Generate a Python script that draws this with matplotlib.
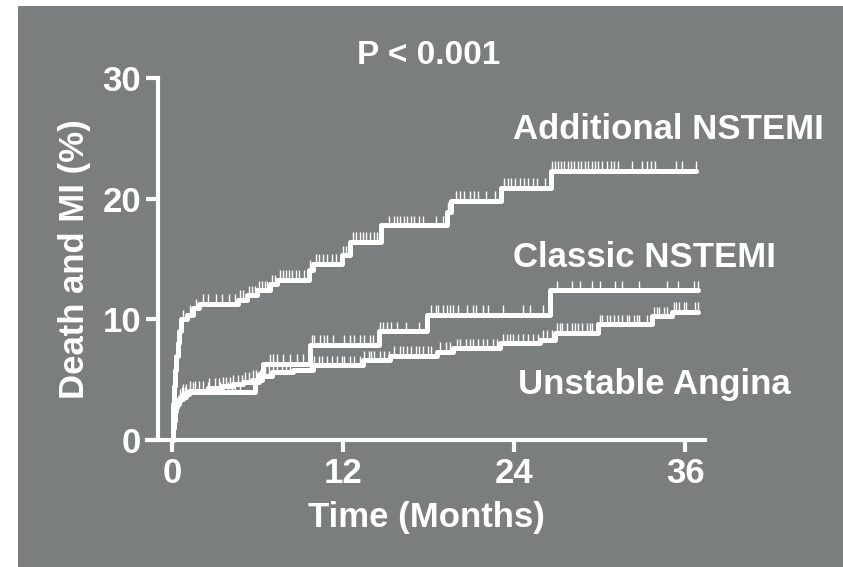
import numpy as np
import matplotlib
matplotlib.use("Agg")
import matplotlib.pyplot as plt

plt.rcParams['font.family'] = ['Liberation Sans', 'DejaVu Sans']
plt.rcParams['font.weight'] = 'bold'

# step curves: event times (months) and cumulative Death/MI (%)
add_t = [0, 0.05, 0.1, 0.15, 0.2, 0.3, 0.4, 0.5, 0.65, 1.05, 1.5, 1.9, 4.6, 5.3, 6.0, 6.9,
         7.4, 9.6, 9.9, 11.9, 12.5, 14.7, 19.3, 19.6, 23.1, 26.6]
add_y = [0, 1.5, 3.0, 4.5, 5.8, 7.0, 8.0, 9.0, 10.0, 10.4, 10.9, 11.3, 11.6, 12.0, 12.4, 12.9,
         13.3, 14.1, 14.6, 15.3, 16.4, 17.8, 18.9, 19.8, 20.9, 22.3]
add_end = 36.8

cls_t = [0, 0.05, 0.12, 0.2, 0.35, 0.6, 1.0, 5.8, 6.1, 6.4, 9.7, 14.5, 17.9, 26.5]
cls_y = [0, 1.0, 2.0, 2.7, 3.2, 3.6, 4.0, 4.8, 5.5, 6.3, 7.9, 9.0, 10.4, 12.4]
cls_end = 36.9

ua_t = [0, 0.05, 0.1, 0.2, 0.3, 0.5, 0.8, 1.2, 2.5, 3.5, 4.3, 5.0, 5.6, 6.3, 7.0, 8.5,
        9.9, 13.4, 15.3, 18.6, 19.7, 23.0, 25.8, 26.9, 29.9, 33.7, 35.1]
ua_y = [0, 0.8, 1.6, 2.4, 3.0, 3.4, 3.8, 4.1, 4.3, 4.45, 4.6, 4.8, 5.0, 5.3, 5.6, 5.8,
        6.2, 6.6, 7.0, 7.3, 7.6, 8.0, 8.3, 8.9, 9.6, 10.25, 10.6]
ua_end = 36.9

# censored observations (months)
add_cens = [0.8, 1.3, 1.7, 2.2, 2.5, 3.1, 3.5, 4.0, 4.4, 4.8, 5.0, 5.4, 5.6, 5.8, 6.1, 6.3,
            6.5, 6.7, 7.0, 7.2, 7.6, 7.8, 8.0, 8.2, 8.4, 8.7, 8.9, 9.3, 9.7, 10.1, 10.3,
            10.6, 10.9, 11.2, 11.5, 12.0, 12.2, 12.7, 12.9, 13.2, 13.4, 13.6, 13.9, 14.2,
            14.4, 15.2, 15.6, 15.8, 16.0, 16.3, 16.5, 16.8, 17.0, 17.3, 17.6, 18.5, 19.0,
            19.4, 19.9, 20.2, 20.5, 20.9, 21.2, 21.5, 22.0, 22.7, 23.3, 23.6, 23.8, 24.1,
            24.4, 24.7, 25.0, 25.3, 25.6, 26.2, 26.7, 26.9, 27.1, 27.3, 27.5, 27.8, 28.0,
            28.2, 28.5, 28.7, 29.0, 29.2, 29.5, 29.7, 29.9, 30.2, 30.5, 30.8, 31.0, 31.3,
            32.3, 33.0, 33.3, 33.6, 33.9, 35.4, 35.8, 36.8]
cls_cens = [0.7, 0.9, 1.5, 2.5, 3.4, 3.9, 4.2, 4.4, 4.8, 6.9, 7.1, 7.4, 7.8, 8.3, 8.8, 9.2,
            9.8, 10.0, 10.4, 10.7, 10.9, 11.3, 12.1, 12.5, 12.8, 13.2, 13.5, 13.9, 14.1,
            14.6, 14.8, 15.1, 15.4, 15.8, 16.4, 17.3, 18.2, 18.5, 18.7, 19.0, 19.3, 19.5,
            19.7, 20.1, 20.7, 21.1, 21.3, 21.8, 22.2, 23.2, 24.6, 25.1, 26.0, 27.0, 28.1,
            28.6, 29.5, 30.0, 31.1, 31.6, 32.8, 34.7, 35.5, 36.6, 36.9]
ua_cens = [0.6, 0.8, 1.0, 1.3, 1.6, 1.9, 2.2, 2.6, 3.0, 3.3, 3.6, 3.8, 4.1, 4.3, 4.6, 4.9,
           5.1, 5.4, 5.7, 5.9, 6.2, 6.5, 6.8, 7.1, 7.4, 7.7, 8.0, 8.3, 9.7, 10.0, 10.3,
           10.5, 10.9, 11.2, 11.6, 11.9, 12.1, 12.5, 12.8, 13.2, 13.5, 13.8, 14.0, 14.2,
           14.6, 14.9, 15.2, 15.6, 16.0, 16.2, 16.5, 16.8, 17.1, 17.3, 17.6, 18.0, 18.2,
           18.8, 19.2, 19.5, 20.0, 20.2, 20.6, 20.9, 21.1, 21.5, 21.8, 22.1, 22.5, 22.8,
           23.2, 23.5, 23.7, 23.9, 24.3, 24.6, 25.0, 25.3, 25.7, 26.0, 26.3, 26.7, 27.0,
           27.2, 27.4, 27.7, 28.1, 28.3, 28.5, 28.8, 29.1, 29.3, 29.5, 30.0, 30.2, 30.5,
           30.7, 31.0, 31.3, 31.6, 31.9, 32.1, 32.4, 32.6, 32.8, 33.3, 33.8, 34.0, 34.2,
           34.5, 34.7, 35.2, 35.4, 35.6, 35.9, 36.1, 36.7, 36.9]

labels = ["Additional NSTEMI", "Classic NSTEMI", "Unstable Angina"]
x_ticks = [0, 12, 24, 36]
y_ticks = [0, 10, 20, 30]

BG = '#7a7e7f'

fig = plt.figure(figsize=(8.43, 5.67), dpi=100)
fig.patch.set_facecolor('white')

# grey panel behind the plot, white margin on the left and top
bg = fig.add_axes([18 / 843, 0, 1 - 18 / 843, 1 - 6 / 567], zorder=-1)
bg.set_facecolor(BG)
bg.set_xticks([])
bg.set_yticks([])
for s in bg.spines.values():
    s.set_visible(False)

ax = fig.add_axes([147 / 843, 127 / 567, 558 / 843, 362 / 567])
ax.set_facecolor('none')


def draw_curve(t, y, end, cens):
    tt = list(t) + [end]
    yy = list(y) + [y[-1]]
    ax.step(tt, yy, where='post', color='white', lw=3.6, clip_on=False,
            solid_joinstyle='round', solid_capstyle='round')
    c = np.array(cens)
    idx = np.searchsorted(np.array(t), c, side='right') - 1
    lev = np.array(y)[idx]
    ax.vlines(c, lev, lev + 0.8, color='white', lw=1.0, clip_on=False)


draw_curve(add_t, add_y, add_end, add_cens)
draw_curve(cls_t, cls_y, cls_end, cls_cens)
draw_curve(ua_t, ua_y, ua_end, ua_cens)

ax.set_xlim(-1.75, 37.4)
ax.set_ylim(0, 30)
ax.spines['top'].set_visible(False)
ax.spines['right'].set_visible(False)
ax.spines['left'].set_position(('data', -0.95))
for s in ('left', 'bottom'):
    ax.spines[s].set_color('white')
    ax.spines[s].set_linewidth(3.0)
    ax.spines[s].set_capstyle('projecting')

ax.set_xticks(x_ticks)
ax.set_yticks(y_ticks)
ax.tick_params(colors='white', width=3.0, length=8.5, labelsize=25, pad=4)
for lab in ax.get_xticklabels() + ax.get_yticklabels():
    lab.set_fontweight('bold')

ax.set_xlabel("Time (Months)", color='white', fontsize=25, fontweight='bold', labelpad=8)
ax.set_ylabel("Death and MI (%)", color='white', fontsize=25, fontweight='bold', labelpad=8)

ax.text(18.0, 31.9, "P < 0.001", color='white', fontsize=24, fontweight='bold',
        ha='center', va='center')
ax.text(23.9, 25.7, labels[0], color='white', fontsize=25, fontweight='bold',
        ha='left', va='center')
ax.text(23.9, 15.1, labels[1], color='white', fontsize=25, fontweight='bold',
        ha='left', va='center')
ax.text(24.3, 4.56, labels[2], color='white', fontsize=25, fontweight='bold',
        ha='left', va='center')

fig.savefig("out.png", dpi=100)
